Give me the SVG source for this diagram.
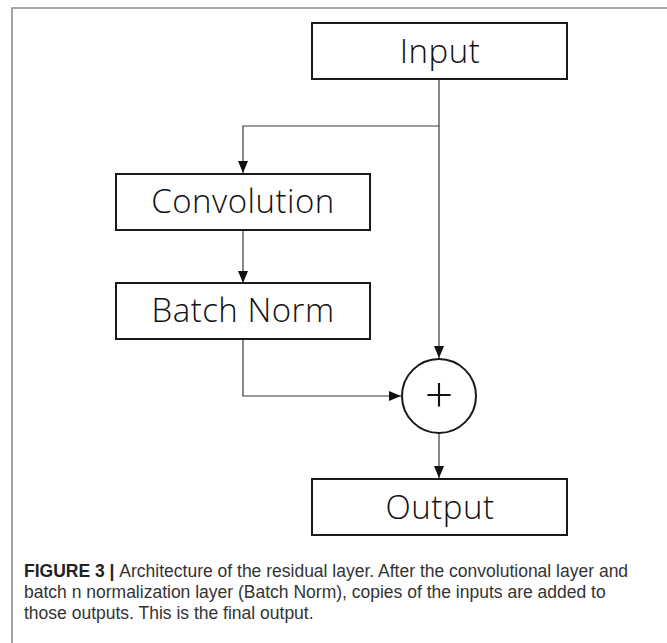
<svg xmlns="http://www.w3.org/2000/svg" width="667" height="643" viewBox="0 0 667 643">
  <defs>
    <style>
      .box { fill: #ffffff; stroke: #1a1a1a; stroke-width: 2; }
      .label { font-family: "Open Sans", "Noto Sans", "Liberation Sans", sans-serif; font-weight: 300; font-size: 33px; fill: #111111; text-anchor: middle; letter-spacing: 0.5px; }
      .plus { font-family: "Open Sans", "Noto Sans", "Liberation Sans", sans-serif; font-weight: 300; font-size: 50px; fill: #111111; text-anchor: middle; }
      .wire { fill: none; stroke: #3a3a3a; stroke-width: 1.2; }
      .frame { fill: none; stroke: #8c8c8c; stroke-width: 1.6; }
      .caption { font-family: "Liberation Sans", Arial, sans-serif; font-size: 17.5px; fill: #333333; }
      .caption .lead { font-weight: bold; fill: #222222; }
    </style>
    <marker id="arrow" viewBox="0 0 12 10" refX="12" refY="5" markerWidth="12" markerHeight="10" markerUnits="userSpaceOnUse" orient="auto">
      <path d="M0,0 L12,5 L0,10 z" fill="#111111"/>
    </marker>
  </defs>

  <rect width="667" height="643" fill="#ffffff"/>

  <!-- figure frame -->
  <path class="frame" d="M12,643 V8 H667"/>

  <!-- connectors -->
  <g id="connectors">
    <path class="wire" d="M439,79 V126 H243 V173" marker-end="url(#arrow)"/>
    <path class="wire" d="M439,126 V358" marker-end="url(#arrow)"/>
    <path class="wire" d="M243,230 V283" marker-end="url(#arrow)"/>
    <path class="wire" d="M243,339 V396 H401" marker-end="url(#arrow)"/>
    <path class="wire" d="M439,434 V478" marker-end="url(#arrow)"/>
  </g>

  <g id="input">
    <rect class="box" x="312" y="23" width="255" height="56"/>
    <text class="label" x="440" y="63">Input</text>
  </g>

  <g id="convolution">
    <rect class="box" x="116" y="174" width="254" height="56"/>
    <text class="label" x="243" y="213">Convolution</text>
  </g>

  <g id="batch-norm">
    <rect class="box" x="116" y="283" width="254" height="56"/>
    <text class="label" x="243" y="322">Batch Norm</text>
  </g>

  <g id="sum">
    <circle cx="439" cy="396" r="37" fill="#ffffff" stroke="#1a1a1a" stroke-width="2"/>
    <text class="plus" x="439" y="413">+</text>
  </g>

  <g id="output">
    <rect class="box" x="312" y="479" width="255" height="56"/>
    <text class="label" x="440" y="519">Output</text>
  </g>

  <!-- caption -->
  <text class="caption" x="24" y="577"><tspan class="lead">FIGURE 3 | </tspan>Architecture of the residual layer. After the convolutional layer and</text>
  <text class="caption" x="24" y="598">batch n normalization layer (Batch Norm), copies of the inputs are added to</text>
  <text class="caption" x="24" y="619">those outputs. This is the final output.</text>
</svg>
